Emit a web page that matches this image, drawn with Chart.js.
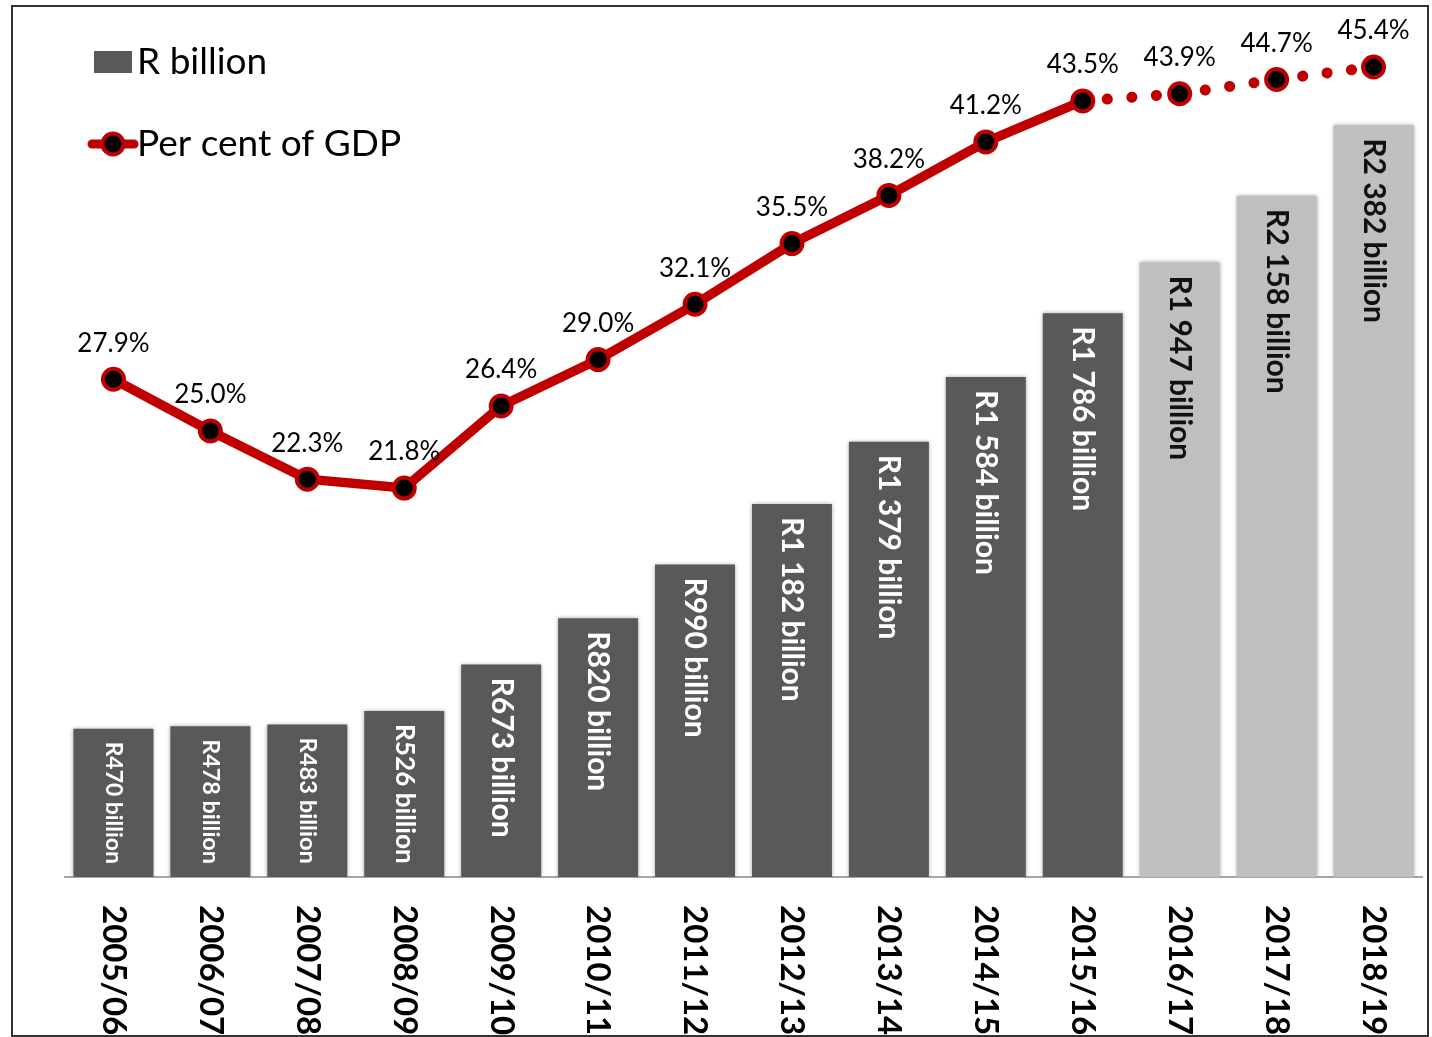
<!DOCTYPE html>
<html>
<head>
<meta charset="utf-8">
<title>Gross loan debt</title>
<script src="https://cdn.jsdelivr.net/npm/chart.js@4.4.1/dist/chart.umd.min.js"></script>
<style>
    html, body { margin: 0; padding: 0; background: #ffffff; }
    #wrap { position: relative; width: 1432px; height: 1037px; }
</style>
</head>
<body>
<div id="wrap"><canvas id="debt-chart"></canvas></div>
<script>
// Fiscal years on the category axis
const YEARS = ['2005/06', '2006/07', '2007/08', '2008/09', '2009/10', '2010/11', '2011/12',
    '2012/13', '2013/14', '2014/15', '2015/16', '2016/17', '2017/18', '2018/19'];

// Gross loan debt, rand billion
const DEBT_BILLION = [470, 478, 483, 526, 673, 820, 990, 1182, 1379, 1584, 1786, 1947, 2158, 2382];

// Debt as a share of GDP, per cent
const DEBT_PCT_GDP = [27.9, 25.0, 22.3, 21.8, 26.4, 29.0, 32.1, 35.5, 38.2, 41.2, 43.5, 43.9, 44.7, 45.4];

// First index that is a projection (lighter bars, dotted line)
const ESTIMATE_FROM = 11;

const DARK_BAR = '#595959';
const LIGHT_BAR = '#bfbfbf';
const LINE_RED = '#c00000';
const FONT = 'Lato, "Open Sans", sans-serif';

// "R1 786 billion" style labels
function randLabel(v) {
    if (v >= 1000) {
        return 'R' + Math.floor(v / 1000) + ' ' + String(v % 1000).padStart(3, '0') + ' billion';
    }
    return 'R' + v + ' billion';
}

// soft shadow behind the bars
const barShadow = {
    id: 'barShadow',
    beforeDatasetDraw(chart, args) {
        if (args.meta.type !== 'bar') return;
        const ctx = chart.ctx;
        ctx.save();
        ctx.shadowColor = 'rgba(0,0,0,0.35)';
        ctx.shadowBlur = 4;
    },
    afterDatasetDraw(chart, args) {
        if (args.meta.type !== 'bar') return;
        chart.ctx.restore();
    }
};

// outer frame, legend, value labels and rotated year labels
const decorations = {
    id: 'decorations',
    beforeDraw(chart) {
        const ctx = chart.ctx;
        ctx.save();
        ctx.fillStyle = '#ffffff';
        ctx.fillRect(0, 0, chart.width, chart.height);
        ctx.strokeStyle = '#333333';
        ctx.lineWidth = 2;
        ctx.strokeRect(12, 6, 1416, 1030);
        ctx.restore();
    },
    afterDatasetsDraw(chart) {
        const ctx = chart.ctx;
        const xScale = chart.scales.x;
        const barMeta = chart.getDatasetMeta(1);
        const lineMeta = chart.getDatasetMeta(0);

        ctx.save();

        // bar labels, running down from the top of each bar
        barMeta.data.forEach((bar, i) => {
            const text = randLabel(DEBT_BILLION[i]);
            const barH = bar.base - bar.y;
            let size = 30;
            ctx.font = 'bold ' + size + 'px ' + FONT;
            const w = ctx.measureText(text).width;
            const avail = barH - 26;
            if (w > avail) size = size * avail / w;
            ctx.font = 'bold ' + size.toFixed(1) + 'px ' + FONT;
            ctx.fillStyle = i >= ESTIMATE_FROM ? '#111111' : '#ffffff';
            ctx.save();
            ctx.translate(bar.x, bar.y + 13);
            ctx.rotate(Math.PI / 2);
            ctx.textAlign = 'left';
            ctx.textBaseline = 'middle';
            ctx.fillText(text, 0, 0);
            ctx.restore();
        });

        // per cent labels above the points
        ctx.font = '26px ' + FONT;
        ctx.fillStyle = '#000000';
        ctx.textAlign = 'center';
        ctx.textBaseline = 'middle';
        lineMeta.data.forEach((pt, i) => {
            ctx.fillText(DEBT_PCT_GDP[i].toFixed(1) + '%', pt.x, pt.y - 36);
        });

        // year labels under the axis, reading downwards
        ctx.font = 'bold 33px ' + FONT;
        ctx.fillStyle = '#000000';
        YEARS.forEach((yr, i) => {
            ctx.save();
            ctx.translate(xScale.getPixelForValue(i), chart.chartArea.bottom + 28);
            ctx.rotate(Math.PI / 2);
            ctx.textAlign = 'left';
            ctx.textBaseline = 'middle';
            ctx.fillText(yr, 0, 0);
            ctx.restore();
        });

        // legend, top left inside the plot
        ctx.textAlign = 'left';
        ctx.textBaseline = 'middle';
        ctx.font = '37px ' + FONT;
        ctx.fillStyle = DARK_BAR;
        ctx.fillRect(94, 51, 38, 22);
        ctx.fillStyle = '#000000';
        ctx.fillText(chart.data.datasets[1].label, 137, 62);

        ctx.strokeStyle = LINE_RED;
        ctx.lineWidth = 9;
        ctx.lineCap = 'round';
        ctx.beginPath();
        ctx.moveTo(92, 144);
        ctx.lineTo(134, 144);
        ctx.stroke();
        ctx.beginPath();
        ctx.arc(113, 144, 10.5, 0, Math.PI * 2);
        ctx.fillStyle = '#000000';
        ctx.fill();
        ctx.lineWidth = 4;
        ctx.stroke();
        ctx.fillText(chart.data.datasets[0].label, 137, 144);

        ctx.restore();
    }
};

const isEstimate = (ctx) => ctx.p1DataIndex >= ESTIMATE_FROM;

new Chart(document.getElementById('debt-chart'), {
    type: 'bar',
    data: {
        labels: YEARS,
        datasets: [{
            type: 'line',
            label: 'Per cent of GDP',
            data: DEBT_PCT_GDP,
            yAxisID: 'y1',
            order: 0,
            borderColor: LINE_RED,
            borderWidth: 9.5,
            borderJoinStyle: 'round',
            borderCapStyle: 'round',
            pointRadius: 10.5,
            pointBorderWidth: 4,
            pointBackgroundColor: '#000000',
            pointBorderColor: LINE_RED,
            tension: 0,
            segment: {
                borderDash: ctx => isEstimate(ctx) ? [0.1, 24.5] : undefined,
                borderWidth: ctx => isEstimate(ctx) ? 11 : undefined
            }
        }, {
            type: 'bar',
            label: 'R billion',
            data: DEBT_BILLION,
            yAxisID: 'y',
            order: 1,
            backgroundColor: DEBT_BILLION.map((v, i) => i >= ESTIMATE_FROM ? LIGHT_BAR : DARK_BAR),
            barPercentage: 0.825,
            categoryPercentage: 1.0
        }]
    },
    options: {
        responsive: true,
        maintainAspectRatio: false,
        animation: false,
        layout: {
            autoPadding: false,
            padding: { top: 9, left: 65, right: 10, bottom: 160 }
        },
        plugins: {
            legend: { display: false },
            tooltip: { enabled: false }
        },
        scales: {
            x: {
                display: true,
                grid: { display: false, drawTicks: false },
                ticks: { display: false },
                border: { display: true, color: '#a6a6a6', width: 2 }
            },
            y: {
                display: false,
                min: 0,
                max: 2750
            },
            y1: {
                display: false,
                position: 'right',
                min: 0,
                max: 48.65
            }
        }
    },
    plugins: [barShadow, decorations]
});
</script>
</body>
</html>
